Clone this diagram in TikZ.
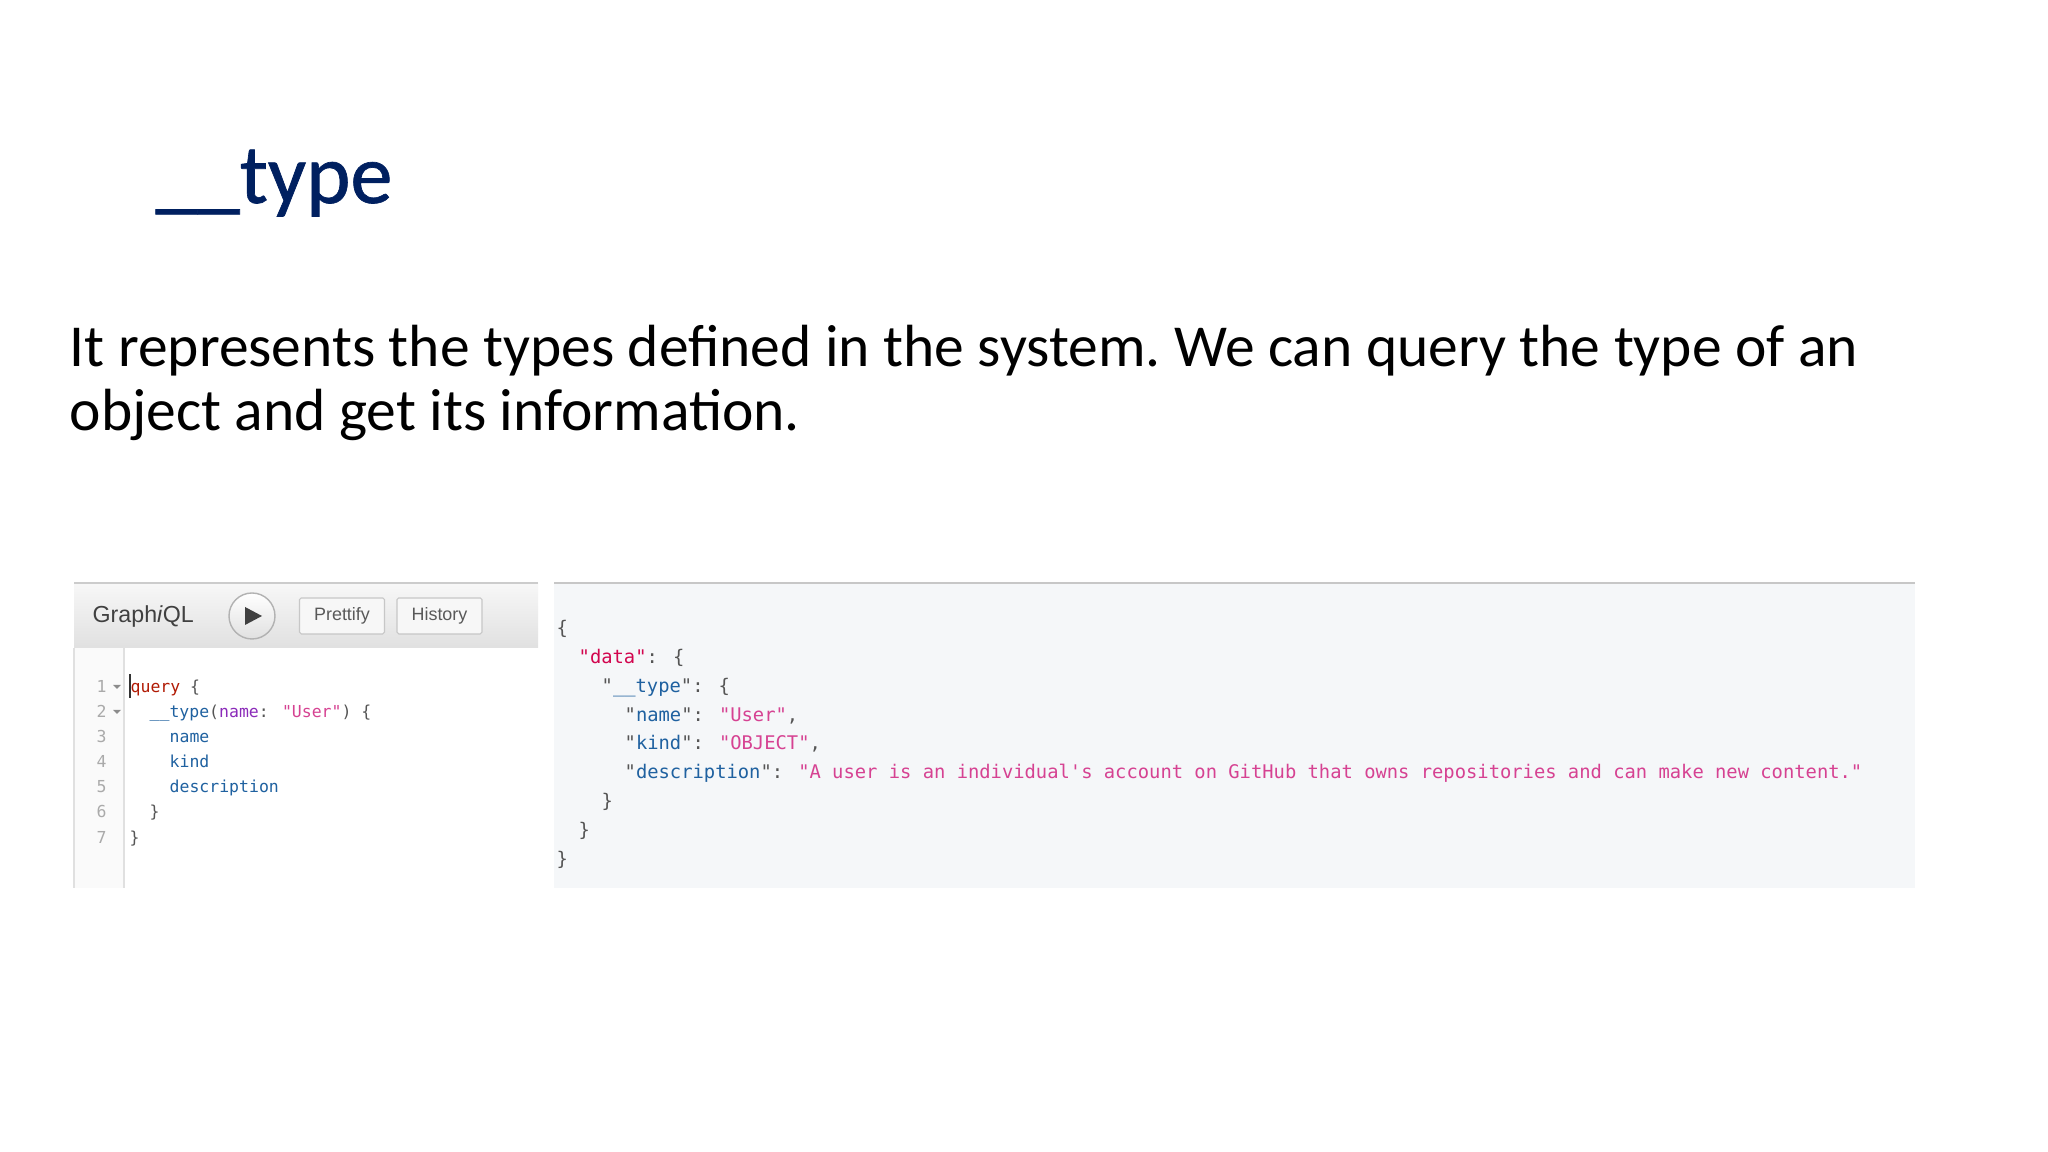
\documentclass[tikz,border=0pt]{standalone}
\usepackage{fontspec}
\setmainfont{Carlito}
\setsansfont{Liberation Sans}
\newfontfamily\codefont{DejaVu Sans Mono}
\newfontfamily\headfont[FakeBold=0.8]{Carlito}
\definecolor{titleblue}{HTML}{002060}
\definecolor{keyred}{HTML}{B11A04}
\definecolor{defred}{HTML}{D2054E}
\definecolor{propblue}{HTML}{1F61A0}
\definecolor{argpurple}{HTML}{8B2BB9}
\definecolor{strpink}{HTML}{D64292}
\definecolor{punctgrey}{HTML}{555555}
\definecolor{guttergrey}{HTML}{AAAAAA}
\definecolor{resultbg}{HTML}{F5F7F9}
\tikzset{
    bodytext/.style={anchor=base west,inner sep=0pt,font=\fontsize{16.94pt}{20pt}\selectfont\frenchspacing},
    querytext/.style={anchor=base west,inner sep=0pt,text=punctgrey,font=\codefont\fontsize{4.69pt}{6pt}\selectfont},
    resulttext/.style={anchor=base west,inner sep=0pt,text=punctgrey,font=\codefont\fontsize{5.35pt}{6pt}\selectfont},
    toolbtn/.style={draw=black!22,fill=black!3,rounded corners=0.5pt,line width=0.3pt,minimum width=0.85cm,minimum height=0.36cm,inner sep=0pt,text=black!65,font=\sffamily\fontsize{5.1pt}{6pt}\selectfont}
}
\begin{document}
\begin{tikzpicture}
    \useasboundingbox (0,0) rectangle (20.48,11.52);
    \fill[white] (0,0) rectangle (20.48,11.52);

    % heading and text
    \node[anchor=base west,inner sep=0pt,text=titleblue,font=\headfont\fontsize{24pt}{26pt}\selectfont] (heading) at (1.55,9.49) {\_\_type};
    \node[bodytext] (lineone) at (0.69,7.85) {It represents the types defined in the system. We can query the type of an};
    \node[bodytext] (linetwo) at (0.69,7.21) {object and get its information.};

    % query panel
    \fill[black!2] (0.73,2.64) rectangle (1.23,5.04);
    \draw[black!12,line width=0.4pt] (1.24,2.64)--(1.24,5.04);
    \draw[black!12,line width=0.4pt] (0.74,2.64)--(0.74,5.04);
    \shade[top color=black!3,bottom color=black!12] (0.74,5.04) rectangle (5.38,5.69);
    \draw[black!20,line width=0.4pt] (0.74,5.69)--(5.38,5.69);

    \node[anchor=base west,inner sep=0pt,text=black!75,font=\sffamily\fontsize{6.6pt}{8pt}\selectfont] (brand) at (0.92,5.29) {Graph\textit{i}QL};
    \draw[black!30,top color=white,bottom color=black!12,line width=0.4pt] (2.52,5.36) circle (0.23);
    \fill[black!75] (2.45,5.45)--(2.62,5.36)--(2.45,5.27)--cycle;
    \node[toolbtn] (prettify) at (3.42,5.36) {Prettify};
    \node[toolbtn] (history) at (4.395,5.36) {History};

    \foreach \num/\ypos in {1/4.59,2/4.34,3/4.09,4/3.84,5/3.59,6/3.34,7/3.08}
        \node[querytext,text=guttergrey] (num\num) at (0.96,\ypos) {\num};
    \fill[black!45] (1.13,4.67)--(1.21,4.67)--(1.17,4.63)--cycle;
    \fill[black!45] (1.13,4.42)--(1.21,4.42)--(1.17,4.38)--cycle;
    \draw[black!80,line width=0.4pt] (1.30,4.54)--(1.30,4.78);

    \node[querytext] (qone) at (1.30,4.59) {\textcolor{keyred}{query} \{};
    \node[querytext] (qtwo) at (1.49,4.34) {\textcolor{propblue}{\_\_type}(\textcolor{argpurple}{name}: \textcolor{strpink}{"User"}) \{};
    \node[querytext,text=propblue] (qthree) at (1.69,4.09) {name};
    \node[querytext,text=propblue] (qfour) at (1.69,3.84) {kind};
    \node[querytext,text=propblue] (qfive) at (1.69,3.59) {description};
    \node[querytext] (qsix) at (1.49,3.34) {\}};
    \node[querytext] (qseven) at (1.29,3.08) {\}};

    % result panel
    \fill[resultbg] (5.54,2.64) rectangle (19.15,5.69);
    \draw[black!22,line width=0.4pt] (5.54,5.69)--(19.15,5.69);

    \node[resulttext] (rone) at (5.56,5.17) {\{};
    \node[resulttext] (rtwo) at (5.78,4.88) {\textcolor{defred}{"data"}: \{};
    \node[resulttext] (rthree) at (6.01,4.59) {"\textcolor{propblue}{\_\_type}": \{};
    \node[resulttext] (rfour) at (6.24,4.30) {"\textcolor{propblue}{name}": \textcolor{strpink}{"User"},};
    \node[resulttext] (rfive) at (6.24,4.02) {"\textcolor{propblue}{kind}": \textcolor{strpink}{"OBJECT"},};
    \node[resulttext] (rsix) at (6.24,3.73) {"\textcolor{propblue}{description}": \textcolor{strpink}{"A user is an individual's account on GitHub that owns repositories and can make new content."}};
    \node[resulttext] (rseven) at (6.01,3.44) {\}};
    \node[resulttext] (reight) at (5.78,3.15) {\}};
    \node[resulttext] (rnine) at (5.56,2.86) {\}};
\end{tikzpicture}
\end{document}
